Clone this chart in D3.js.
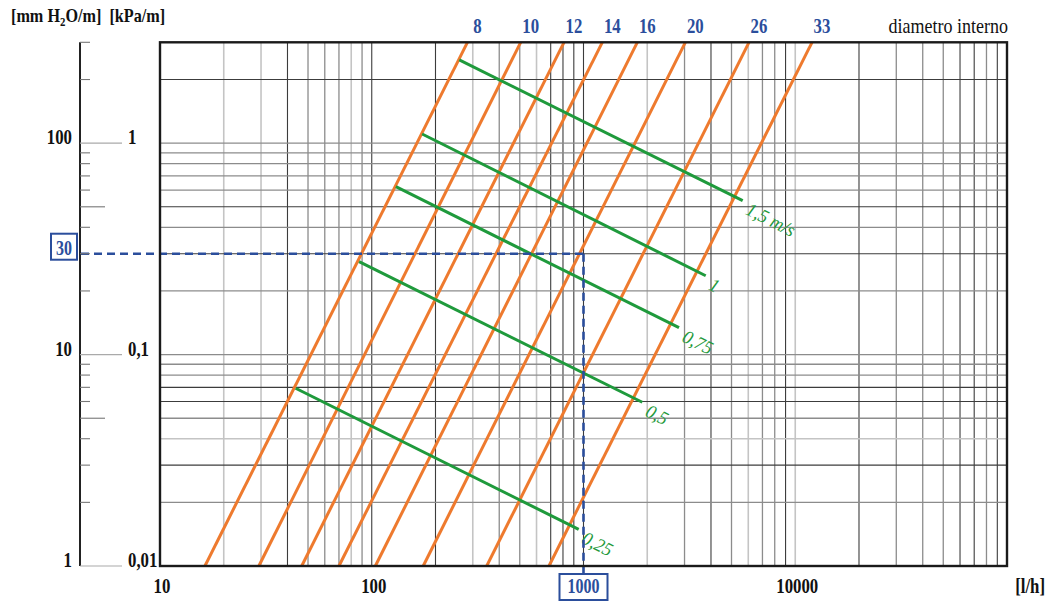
<!DOCTYPE html>
<html>
<head>
<meta charset="utf-8">
<script src="https://cdn.jsdelivr.net/npm/d3@7"></script>
<style>
  body { margin: 0; background: #fff; }
  svg { display: block; }
  text { font-family: "Liberation Serif", "Times New Roman", serif; }
</style>
</head>
<body>
<svg id="chart" width="1050" height="602"></svg>
<script>
// pipe inner diameters (mm) and the flow (l/h) where each line meets
// the bottom edge (1 mm/m) and the top edge (300 mm/m)
const diameters = [8, 10, 12, 14, 16, 20, 26, 33];
const flowAtBottom = [16.3, 29.3, 46.7, 70, 104, 175, 349, 687];
const flowAtTop = [283, 505, 809, 1227, 1795, 3026, 6047, 12000];

// velocity lines (m/s): start and end points (flow l/h, loss mm/m)
const velocities = ['1,5 m/s', '1', '0,75', '0,5', '0,25'];
const velStartFlow = [259, 173, 130, 87.1, 43.7];
const velStartLoss = [247.5, 110.5, 62.3, 27.5, 6.93];
const velEndFlow = [5646, 3777, 2825, 1895, 949];
const velEndLoss = [53.5, 23.6, 13.4, 5.95, 1.49];

const xTicks = [10, 100, 1000, 10000];
const yTicks = [1, 10, 100];
const yTicksKpa = ['0,01', '0,1', '1'];
const exampleFlow = 1000;
const exampleLoss = 30;

// grid line shades: d = dark, m = mid, l = light
const xGridShade = {
    20: 'l', 30: 'l', 40: 'd', 50: 'm', 60: 'm', 70: 'm', 80: 'l', 90: 'm', 100: 'd',
    200: 'd', 300: 'l', 400: 'm', 500: 'm', 600: 'l', 700: 'd', 800: 'd', 900: 'd', 1000: 'd',
    2000: 'l', 3000: 'm', 4000: 'd', 5000: 'm', 6000: 'l', 7000: 'm', 8000: 'm', 9000: 'd', 10000: 'l',
    20000: 'd', 30000: 'm', 40000: 'm', 50000: 'm', 60000: 'd', 70000: 'd', 80000: 'm', 90000: 'd',
};
const yGridShade = {
    2: 'm', 3: 'd', 4: 'l', 5: 'm', 6: 'd', 7: 'd', 8: 'm', 9: 'm', 10: 'm',
    20: 'm', 30: 'd', 40: 'm', 50: 'd', 60: 'm', 70: 'm', 80: 'm', 90: 'm', 100: 'm', 200: 'd',
};
const shadeStyle = {
    d: {c: '#3c3c3c', w: 1.1},
    m: {c: '#8c8c8c', w: 1.3},
    l: {c: '#c4c4c4', w: 1.6},
};

const orange = '#ee7a2e';
const green = '#1f9a3c';
const blue = '#2b4e9c';

const svg = d3.select('#chart');

const x = d3.scaleLog().domain([10, 100000]).range([160, 1007]);
const y = d3.scaleLog().domain([1, 300]).range([566, 42.3]);

// all log steps 1..9 x 10^k inside a domain
function logSteps(lo, hi) {
    let out = [];
    for (let p = 1; p <= 100000; p *= 10) {
        for (let m = 1; m <= 9; m++) {
            let v = m * p;
            if (v >= lo && v <= hi) out.push(v);
        }
    }
    return out;
}

// condensed serif text
function label(parent, tx, ty, str, o) {
    o = o || {};
    let tr = 'translate(' + tx + ',' + ty + ')';
    if (o.rotate) tr += ' rotate(' + o.rotate + ')';
    tr += ' scale(' + (o.sx || 0.8) + ',1)';
    return parent.append('text')
        .attr('transform', tr)
        .attr('x', o.dx || 0)
        .attr('y', o.dy || 0)
        .attr('text-anchor', o.anchor || 'start')
        .style('font-size', (o.size || 21) + 'px')
        .style('font-weight', o.weight || 'bold')
        .style('font-style', o.italic ? 'italic' : 'normal')
        .style('fill', o.color || '#111')
        .text(str);
}

// grid
let grid = svg.append('g');
logSteps(11, 99999).forEach(function(v) {
    let s = shadeStyle[xGridShade[v] || 'm'];
    grid.append('line')
        .attr('x1', x(v)).attr('x2', x(v))
        .attr('y1', y(300)).attr('y2', y(1))
        .attr('stroke', s.c).attr('stroke-width', s.w);
});
logSteps(2, 299).forEach(function(v) {
    let s = shadeStyle[yGridShade[v] || 'm'];
    grid.append('line')
        .attr('x1', x(10)).attr('x2', x(100000))
        .attr('y1', y(v)).attr('y2', y(v))
        .attr('stroke', s.c).attr('stroke-width', s.w);
});

// pipe diameter lines
let pipes = svg.append('g');
diameters.forEach(function(d, i) {
    pipes.append('line')
        .attr('x1', x(flowAtBottom[i])).attr('y1', y(1))
        .attr('x2', x(flowAtTop[i])).attr('y2', y(300))
        .attr('stroke', orange).attr('stroke-width', 3);
    label(svg, x(flowAtTop[i]) + 10, 33, String(d),
        {anchor: 'middle', color: blue});
});

// velocity lines
let vel = svg.append('g');
velocities.forEach(function(v, i) {
    let x1 = x(velStartFlow[i]);
    let y1 = y(velStartLoss[i]);
    let x2 = x(velEndFlow[i]);
    let y2 = y(velEndLoss[i]);
    vel.append('line')
        .attr('x1', x1).attr('y1', y1)
        .attr('x2', x2).attr('y2', y2)
        .attr('stroke', green).attr('stroke-width', 3);
    let ang = Math.atan2(y2 - y1, x2 - x1) * 180 / Math.PI;
    label(vel, x2, y2, v, {rotate: ang, dx: 8, dy: 11, size: 19,
        weight: 'normal', italic: true, color: green, sx: 0.95});
});

// example reading: 30 mm/m at 1000 l/h
let ex = svg.append('g');
ex.append('line')
    .attr('x1', 81).attr('x2', x(exampleFlow))
    .attr('y1', y(exampleLoss)).attr('y2', y(exampleLoss))
    .attr('stroke', blue).attr('stroke-width', 2.6)
    .attr('stroke-dasharray', '8,5');
ex.append('line')
    .attr('x1', x(exampleFlow)).attr('x2', x(exampleFlow))
    .attr('y1', y(exampleLoss)).attr('y2', 573)
    .attr('stroke', blue).attr('stroke-width', 2.6)
    .attr('stroke-dasharray', '8,5');
ex.append('rect')
    .attr('x', 51).attr('y', y(exampleLoss) - 20)
    .attr('width', 26).attr('height', 26)
    .attr('fill', '#fff').attr('stroke', blue).attr('stroke-width', 2);
label(ex, 64, y(exampleLoss) + 1.5, String(exampleLoss),
    {anchor: 'middle', color: blue, size: 20});
ex.append('rect')
    .attr('x', x(exampleFlow) - 24).attr('y', 574)
    .attr('width', 48).attr('height', 26)
    .attr('fill', '#fff').attr('stroke', blue).attr('stroke-width', 2);
label(ex, x(exampleFlow), 593, String(exampleFlow),
    {anchor: 'middle', color: blue, size: 20});

// plot frame
svg.append('rect')
    .attr('x', x(10)).attr('y', y(300))
    .attr('width', x(100000) - x(10)).attr('height', y(1) - y(300))
    .attr('fill', 'none').attr('stroke', '#1a1a1a').attr('stroke-width', 2.4);

// left scale
let ax = svg.append('g');
ax.append('line')
    .attr('x1', 80).attr('x2', 80)
    .attr('y1', y(300)).attr('y2', y(1))
    .attr('stroke', '#222').attr('stroke-width', 2);
logSteps(1, 300).forEach(function(v) {
    let lead = +String(v)[0];
    let major = yTicks.indexOf(v) >= 0;
    let len = major ? 42 : (lead === 5 ? 25 : 10);
    ax.append('line')
        .attr('x1', 80).attr('x2', 80 + len)
        .attr('y1', y(v)).attr('y2', y(v))
        .attr('stroke', major ? '#aaa' : '#777').attr('stroke-width', 1.1);
});
yTicks.forEach(function(v, i) {
    label(ax, 72, y(v) + 1, String(v), {anchor: 'end'});
    label(ax, 128, y(v) + 1, yTicksKpa[i], {anchor: 'start'});
});
xTicks.forEach(function(v) {
    if (v === exampleFlow) return;
    label(ax, x(v) + 2, 593, String(v), {anchor: 'middle'});
});

label(svg, 1045, 593, '[l/h]', {anchor: 'end'});
label(svg, 1008, 33, 'diametro interno', {anchor: 'end', weight: 'normal', size: 20, sx: 0.9});

let unit = svg.append('text')
    .attr('transform', 'translate(11,22) scale(0.9,1)')
    .style('font-size', '18px').style('font-weight', 'bold').style('fill', '#111');
unit.append('tspan').text('[mm H');
unit.append('tspan').attr('dy', 4).style('font-size', '12px').text('2');
unit.append('tspan').attr('dy', -4).text('O/m]\u00a0\u00a0[kPa/m]');
</script>
</body>
</html>
